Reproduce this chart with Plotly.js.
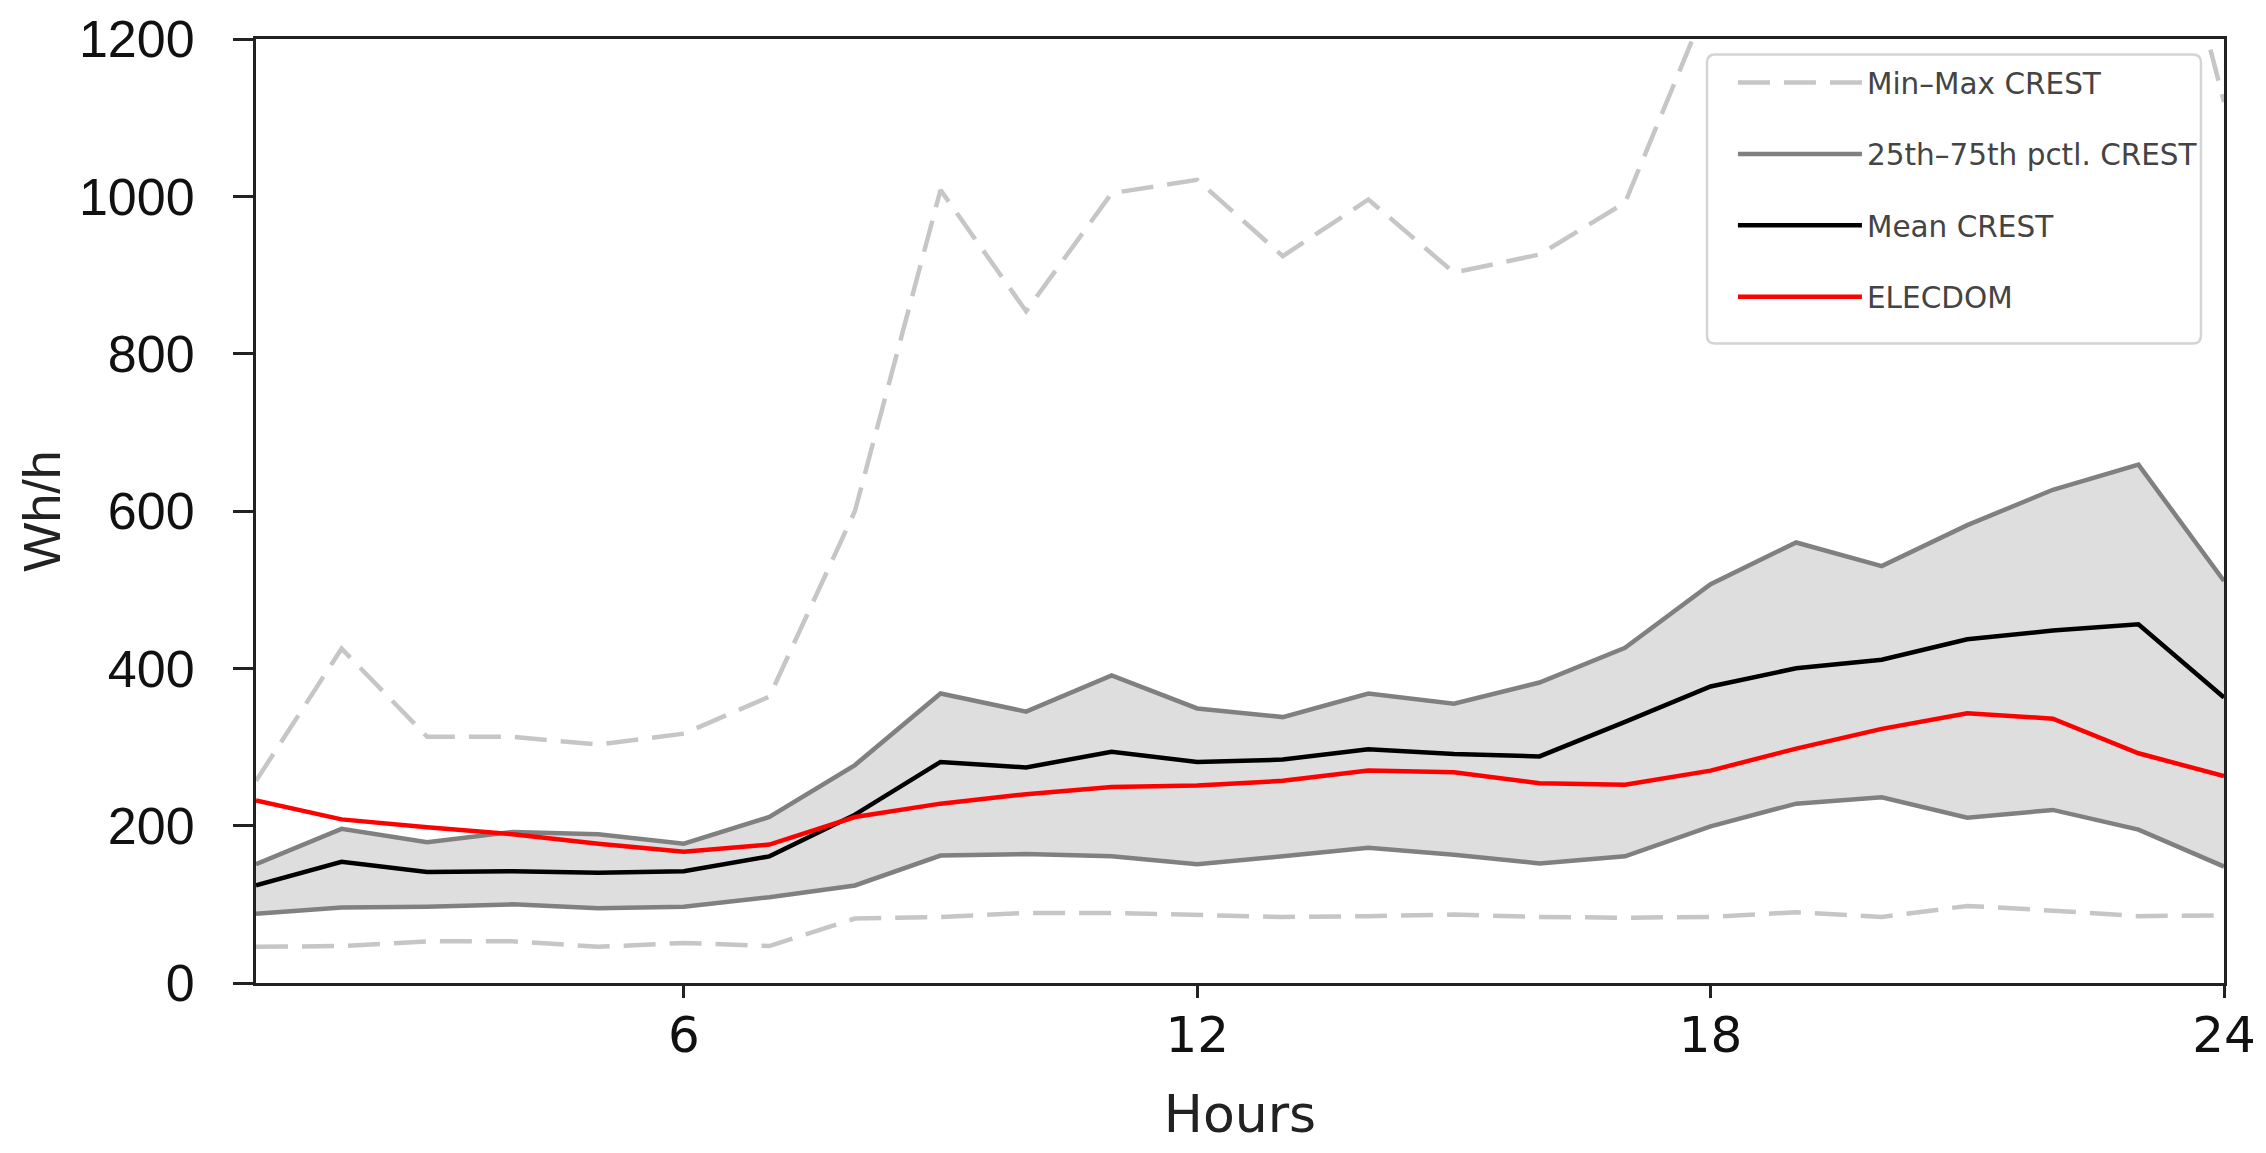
<!DOCTYPE html>
<html>
<head>
<meta charset="utf-8">
<script src="https://cdn.plot.ly/plotly-3.0.1.min.js"></script>
<style>
    html, body { margin: 0; padding: 0; background: #fff; }
    #chart { width: 2266px; height: 1153px; }
</style>
</head>
<body>
<div id="chart"></div>
<script>
// =========================
// DATA
// =========================
let hours = [1, 2, 3, 4, 5, 6, 7, 8, 9, 10, 11, 12, 13, 14, 15, 16, 17, 18, 19, 20, 21, 22, 23, 24];

let maxCrest = [257, 425, 313, 313, 303, 317, 364, 600, 1008, 854, 1004, 1021,
                924, 996, 903, 926, 992, 1255, 1400, 1450, 1500, 1520, 1540, 1120];
let minCrest = [46, 47, 53, 53, 46, 51, 47, 82, 84, 89, 89, 86,
                84, 85, 87, 84, 83, 84, 90, 84, 98, 92, 85, 86];
let p25Crest = [88, 96, 97, 100, 95, 97, 109, 124, 162, 164, 161, 151,
                161, 172, 163, 152, 161, 199, 228, 236, 210, 220, 195, 148];
let p75Crest = [151, 196, 179, 192, 189, 177, 211, 277, 368, 345, 391, 349,
                338, 368, 355, 382, 426, 507, 560, 530, 582, 627, 659, 511];
let meanCrest = [124, 154, 141, 142, 140, 142, 161, 214, 281, 274, 294, 281,
                 284, 297, 291, 288, 332, 377, 400, 411, 437, 448, 456, 363];
let elecdom = [232, 208, 198, 189, 177, 167, 176, 211, 228, 240, 249, 251,
               257, 270, 268, 254, 252, 270, 298, 323, 343, 336, 292, 263];

let xTicks = [6, 12, 18, 24];
let legendNames = ["Min\u2013Max CREST", "25th\u201375th pctl. CREST", "Mean CREST", "ELECDOM"];

// =========================
// TRACES
// =========================
function lineTrace(y, name, color, dash, group, show, fill) {
    let t = {
        x: hours,
        y: y,
        type: "scatter",
        mode: "lines",
        name: name,
        legendgroup: group,
        showlegend: show,
        line: { color: color, width: 4.5, dash: dash },
        hoverinfo: "x+y"
    };
    if (fill) {
        t.fill = "tonexty";
        t.fillcolor = "#dedede";
    }
    return t;
}

let traces = [
    lineTrace(minCrest, legendNames[0], "#c6c6c6", "32px,14px", "mm", true),
    lineTrace(maxCrest, legendNames[0], "#c6c6c6", "32px,14px", "mm", false),
    lineTrace(p25Crest, legendNames[1], "#808080", "solid", "pct", true),
    lineTrace(p75Crest, legendNames[1], "#808080", "solid", "pct", false, true),
    lineTrace(meanCrest, legendNames[2], "#000000", "solid", "mean", true),
    lineTrace(elecdom, legendNames[3], "#ff0000", "solid", "elec", true)
];

// =========================
// LEGEND FRAME (rounded box, paper coords)
// =========================
function roundedBox(x0, y0, x1, y1, rx, ry) {
    return "M" + (x0 + rx) + "," + y0 +
        " L" + (x1 - rx) + "," + y0 + " Q" + x1 + "," + y0 + " " + x1 + "," + (y0 + ry) +
        " L" + x1 + "," + (y1 - ry) + " Q" + x1 + "," + y1 + " " + (x1 - rx) + "," + y1 +
        " L" + (x0 + rx) + "," + y1 + " Q" + x0 + "," + y1 + " " + x0 + "," + (y1 - ry) +
        " L" + x0 + "," + (y0 + ry) + " Q" + x0 + "," + y0 + " " + (x0 + rx) + "," + y0 + " Z";
}

let legendFrame = {
    type: "path",
    xref: "paper",
    yref: "paper",
    layer: "above",
    path: roundedBox(0.7373, 0.6774, 0.9883, 0.9836, 0.0041, 0.0085),
    fillcolor: "#ffffff",
    line: { color: "#d4d4d4", width: 2.5 }
};

// =========================
// LAYOUT
// =========================
let layout = {
    width: 2266,
    height: 1153,
    margin: { l: 256, r: 42, t: 39, b: 170 },
    paper_bgcolor: "#ffffff",
    plot_bgcolor: "#ffffff",
    shapes: [legendFrame],
    showlegend: true,
    legend: {
        x: 0.9893,
        y: 0.981,
        xanchor: "right",
        yanchor: "top",
        bgcolor: "rgba(0,0,0,0)",
        borderwidth: 0,
        tracegroupgap: 30,
        itemwidth: 124,
        font: { family: "DejaVu Sans", size: 29.5, color: "#444444" }
    },
    xaxis: {
        range: [1, 24],
        tickvals: xTicks,
        ticktext: xTicks.map(String),
        ticks: "outside",
        ticklen: 12,
        tickwidth: 3,
        tickcolor: "#222222",
        ticklabelstandoff: -6,
        showline: true,
        mirror: true,
        linecolor: "#222222",
        linewidth: 3,
        showgrid: false,
        zeroline: false,
        tickfont: { family: "DejaVu Sans", size: 50, color: "#111111" },
        title: {
            text: "Hours",
            standoff: 33,
            font: { family: "DejaVu Sans", size: 52, color: "#222222" }
        }
    },
    yaxis: {
        range: [0, 1200],
        dtick: 200,
        ticks: "outside",
        ticklen: 20,
        tickwidth: 3,
        tickcolor: "#222222",
        ticklabelstandoff: 28,
        showline: true,
        mirror: true,
        linecolor: "#222222",
        linewidth: 3,
        showgrid: false,
        zeroline: false,
        tickfont: { family: "Liberation Sans, Arial", size: 52, color: "#111111" },
        title: {
            text: "Wh/h",
            standoff: 2,
            font: { family: "Liberation Sans, Arial", size: 52, color: "#222222" }
        }
    }
};

Plotly.newPlot("chart", traces, layout, { displayModeBar: false, staticPlot: true });
</script>
</body>
</html>
